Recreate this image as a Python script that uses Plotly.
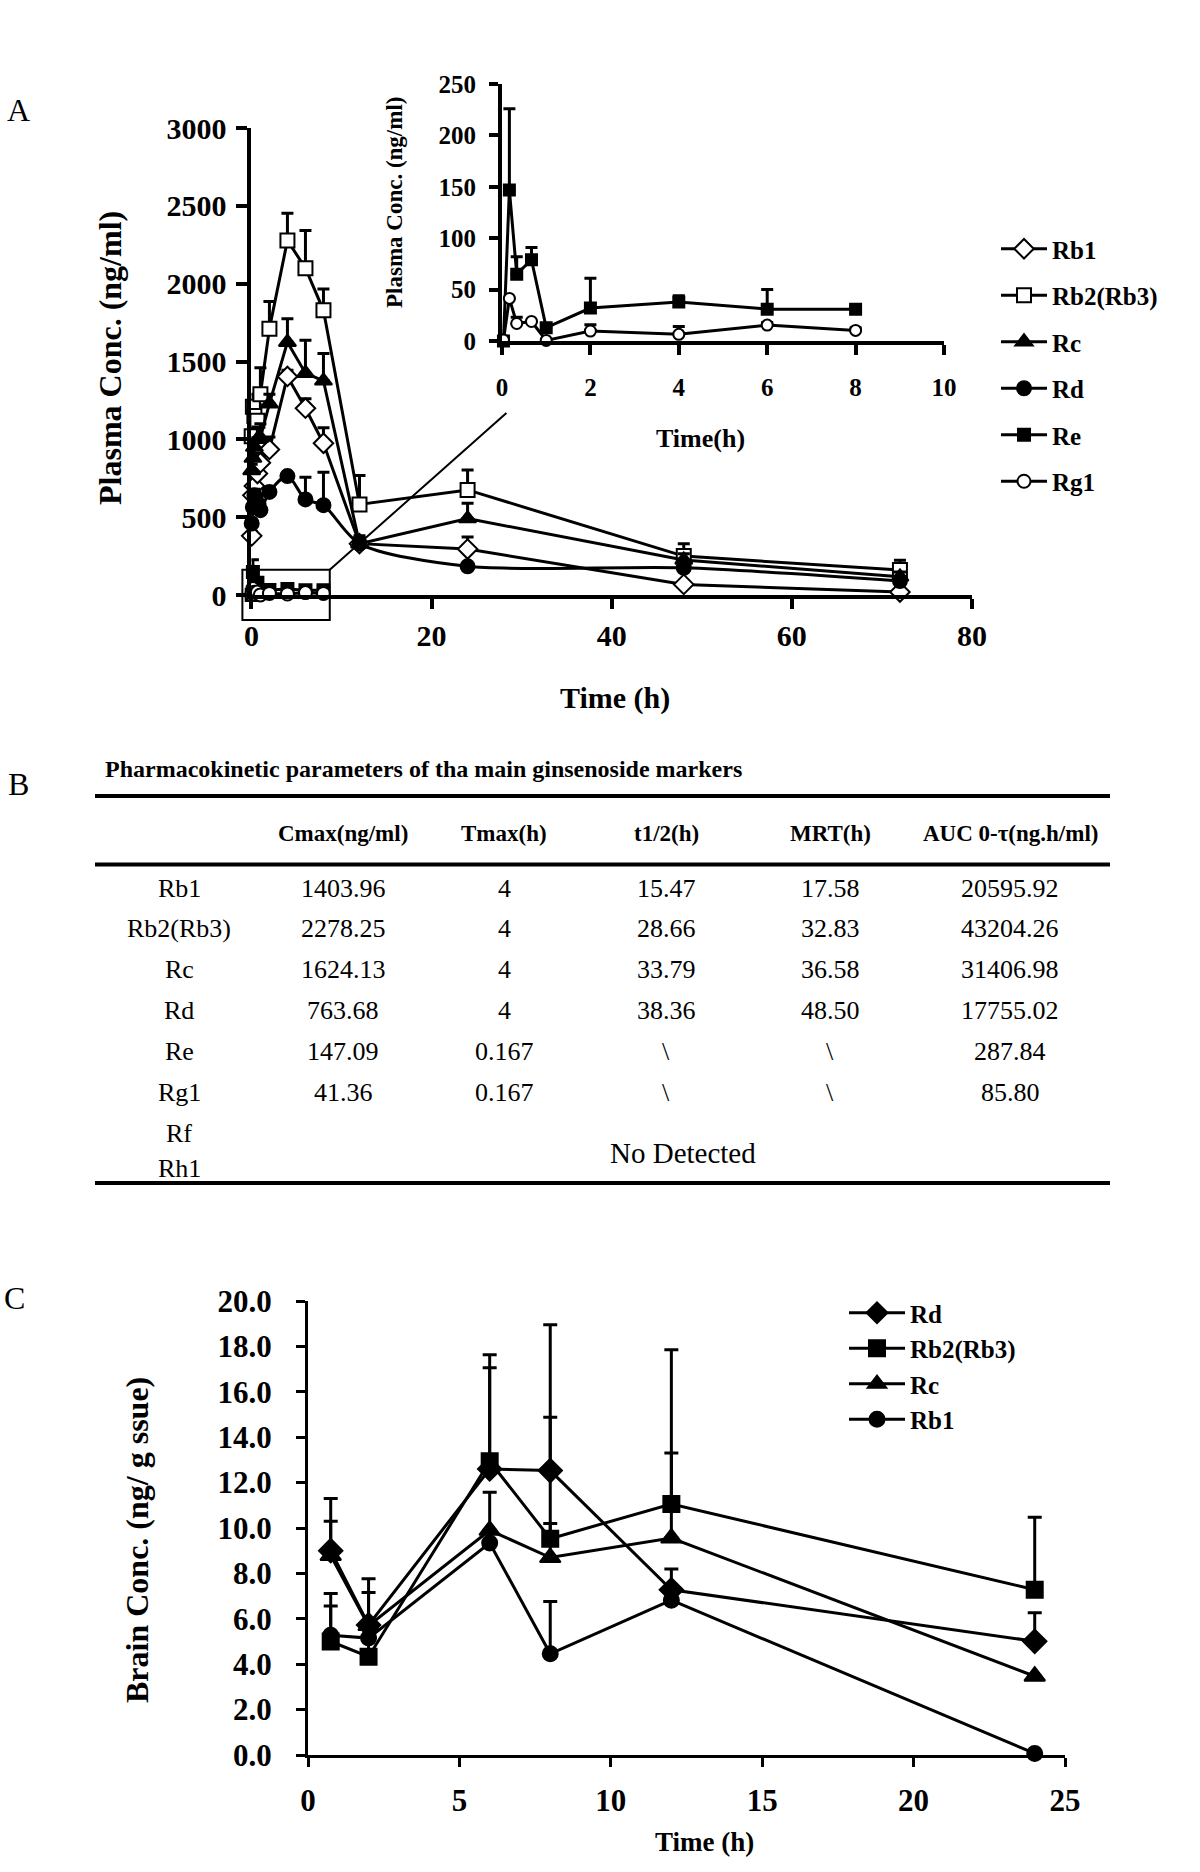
import plotly.graph_objects as go

FONT = "Liberation Serif"
W, H = 1200, 1872

# ---------------- Panel A data (plasma) ----------------
time_A = [0.033, 0.167, 0.333, 0.667, 1, 2, 4, 6, 8, 12, 24, 48, 72]
rb1_A = [380, 640, 700, 780, 850, 935, 1404, 1200, 975, 330, 295, 68, 19]
rb1_A_err = [30, 40, 50, 50, 60, 80, 40, 60, 100, 40, 78, 15, 10]
rb2_A = [1020, 1210, 1150, 1120, 1290, 1711, 2278, 2099, 1829, 582, 675, 250, 160]
rb2_A_err = [60, 80, 70, 100, 170, 174, 175, 243, 137, 185, 128, 79, 64]
rc_A = [800, 880, 950, 1000, 1010, 1229, 1624, 1425, 1376, 330, 491, 225, 117]
rc_A_err = [40, 60, 60, 80, 90, 60, 150, 212, 176, 50, 99, 40, 30]
rd_A = [460, 565, 640, 590, 545, 662, 764, 614, 577, 330, 184, 175, 90]
rd_A_err = [20, 30, 40, 40, 40, 30, 15, 142, 211, 20, 15, 15, 10]

time_early = [0.033, 0.167, 0.333, 0.667, 1, 2, 4, 6, 8]
re_A = [0, 147, 65, 79, 13, 32, 38, 31, 31]
re_A_err = [0, 79, 17, 12, 0, 29, 6, 19, 2]
rg1_A = [1, 41.4, 17, 19, 0.6, 9.7, 6.5, 15.5, 10.3]
rg1_A_err = [0, 0, 6, 0, 0, 6, 7.5, 2.5, 2.7]

# ---------------- Panel B data (table) ----------------
pk_title = "Pharmacokinetic parameters of tha main ginsenoside markers"
pk_headers = ["Cmax(ng/ml)", "Tmax(h)", "t1/2(h)", "MRT(h)", "AUC 0-τ(ng.h/ml)"]
pk_names = ["Rb1", "Rb2(Rb3)", "Rc", "Rd", "Re", "Rg1"]
pk_cmax = ["1403.96", "2278.25", "1624.13", "763.68", "147.09", "41.36"]
pk_tmax = ["4", "4", "4", "4", "0.167", "0.167"]
pk_thalf = ["15.47", "28.66", "33.79", "38.36", "\\", "\\"]
pk_mrt = ["17.58", "32.83", "36.58", "48.50", "\\", "\\"]
pk_auc = ["20595.92", "43204.26", "31406.98", "17755.02", "287.84", "85.80"]
pk_nd_names = ["Rf", "Rh1"]
pk_nd_text = "No Detected"

# ---------------- Panel C data (brain) ----------------
time_C = [0.75, 2, 6, 8, 12, 24]
rd_C = [9.0, 5.73, 12.6, 12.53, 7.28, 5.01]
rd_C_err = [2.3, 2.03, 4.46, 6.42, 0.91, 1.26]
rb2_C = [5.0, 4.33, 12.94, 9.53, 11.06, 7.28]
rb2_C_err = [2.12, 0.9, 4.69, 5.35, 6.79, 3.19]
rc_C = [8.79, 5.7, 9.9, 8.7, 9.56, 3.47]
rc_C_err = [1.51, 1.46, 1.67, 1.5, 3.74, 0]
rb1_C = [5.27, 5.15, 9.34, 4.46, 6.82, 0.07]
rb1_C_err = [1.29, 0.6, 0, 2.3, 0, 0]


def px(x):
    return x / W


def py(y):
    return 1 - y / H


# layout geometry (pixels)
A_X0, A_X1 = 251.4, 972.0
A_Y0, A_Y1 = 595.0, 128.0
I_X0, I_X1 = 502.0, 944.0
I_Y0, I_Y1 = 341.0, 84.0
C_X0, C_X1 = 308.0, 1065.0
C_Y0, C_Y1 = 1755.0, 1301.0

fig = go.Figure()


def err(arr, w, th=3):
    return dict(type="data", array=arr, arrayminus=[0] * len(arr), symmetric=False,
                color="black", thickness=th, width=w, visible=True)


def add_series(x, y, e, name, symbol, fill, xa, ya, size, lw, legend=None, show=True,
               shape="linear", ew=6):
    fig.add_trace(go.Scatter(
        x=x, y=y, name=name, mode="lines+markers", xaxis=xa, yaxis=ya,
        line=dict(color="black", width=lw, shape=shape, smoothing=0.8),
        marker=dict(symbol=symbol, size=size, color=fill, line=dict(color="black", width=2)),
        error_y=err(e, ew), cliponaxis=False, showlegend=show,
        legend=legend if legend else "legend", legendgroup=(legend or "a") + name,
    ))


# Panel A main
add_series(time_A, rb1_A, rb1_A_err, "Rb1", "diamond", "white", "x", "y", 15, 3)
add_series(time_A, rb2_A, rb2_A_err, "Rb2(Rb3)", "square", "white", "x", "y", 14, 3)
add_series(time_A, rc_A, rc_A_err, "Rc", "triangle-up", "black", "x", "y", 15, 3)
add_series(time_A, rd_A, rd_A_err, "Rd", "circle", "black", "x", "y", 14, 3, shape="spline")
add_series(time_early, re_A, re_A_err, "Re", "square", "black", "x", "y", 12, 3)
add_series(time_early, rg1_A, rg1_A_err, "Rg1", "circle", "white", "x", "y", 13, 3)

# inset
add_series(time_early, re_A, re_A_err, "Re", "square", "black", "x2", "y2", 11, 3, show=False, ew=6)
add_series(time_early, rg1_A, rg1_A_err, "Rg1", "circle", "white", "x2", "y2", 11, 3, show=False, ew=6)

# Panel C
add_series(time_C, rd_C, rd_C_err, "Rd", "diamond", "black", "x3", "y3", 18, 3, legend="legend2", ew=7)
add_series(time_C, rb2_C, rb2_C_err, "Rb2(Rb3)", "square", "black", "x3", "y3", 16, 3, legend="legend2", ew=7)
add_series(time_C, rc_C, rc_C_err, "Rc", "triangle-up", "black", "x3", "y3", 18, 3, legend="legend2", ew=7)
add_series(time_C, rb1_C, rb1_C_err, "Rb1", "circle", "black", "x3", "y3", 15, 3, legend="legend2", ew=7)


def axis(domain, rng, anchor, tickvals, size, lw, tl, fmt=None, standoff=4):
    d = dict(domain=domain, range=rng, anchor=anchor, showline=True, linecolor="black",
             linewidth=lw, ticks="outside", ticklen=tl, tickwidth=lw, tickcolor="black",
             showgrid=False, zeroline=False, tickvals=tickvals, automargin=False,
             tickfont=dict(family=FONT, size=size, color="black", weight="bold"),
             ticklabelstandoff=standoff, fixedrange=True)
    if fmt:
        d["tickformat"] = fmt
    return d


fig.update_layout(
    width=W, height=H, margin=dict(l=0, r=0, t=0, b=0, pad=0, autoexpand=False),
    paper_bgcolor="white", plot_bgcolor="rgba(0,0,0,0)",
    xaxis=axis([px(A_X0), px(A_X1)], [0, 80], "y", [0, 20, 40, 60, 80], 30, 4, 10, standoff=1),
    yaxis=axis([py(A_Y0), py(A_Y1)], [0, 3000], "x", [0, 500, 1000, 1500, 2000, 2500, 3000], 30, 4, 11, standoff=4),
    xaxis2=axis([px(I_X0), px(I_X1)], [0, 10], "y2", [0, 2, 4, 6, 8, 10], 25, 4, 10, standoff=11),
    yaxis2=axis([py(I_Y0), py(I_Y1)], [0, 250], "x2", [0, 50, 100, 150, 200, 250], 25, 4, 9, standoff=8),
    xaxis3=axis([px(C_X0), px(C_X1)], [0, 25], "y3", [0, 5, 10, 15, 20, 25], 31, 3, 9, standoff=7),
    yaxis3=axis([py(C_Y0), py(C_Y1)], [0, 20], "x3", [0, 2, 4, 6, 8, 10, 12, 14, 16, 18, 20], 31, 3, 9, fmt=".1f", standoff=18),
    legend=dict(x=px(996), y=py(226), xanchor="left", yanchor="top", tracegroupgap=11,
                itemwidth=46,
                font=dict(family=FONT, size=25, color="black", weight="bold"),
                bgcolor="rgba(0,0,0,0)", itemclick=False, itemdoubleclick=False),
    legend2=dict(x=px(844), y=py(1290), xanchor="left", yanchor="top", tracegroupgap=0,
                 itemwidth=56,
                 font=dict(family=FONT, size=25, color="black", weight="bold"),
                 bgcolor="rgba(0,0,0,0)", itemclick=False, itemdoubleclick=False),
)

ann = []


def text(x, y, s, size, bold=True, angle=0, xanchor="center"):
    ann.append(dict(x=px(x), y=py(y), xref="paper", yref="paper", text=s, showarrow=False,
                    textangle=angle, xanchor=xanchor, yanchor="middle",
                    font=dict(family=FONT, size=size, color="black",
                              weight="bold" if bold else "normal")))


# panel letters
text(18, 110, "A", 32, bold=False)
text(18, 784, "B", 32, bold=False)
text(14, 1298, "C", 32, bold=False)

# axis titles
text(110, 358, "Plasma Conc. (ng/ml)", 32, angle=-90)
text(615, 698, "Time (h)", 30)
text(394, 203, "Plasma Conc. (ng/ml)", 23, angle=-90)
text(700, 438, "Time(h)", 26)
text(137, 1540, "Brain Conc. (ng/ g ssue)", 32, angle=-90)
text(704, 1842, "Time (h)", 27)

# table
col_x = [179, 343, 504, 666, 830, 1010]
text(103, 769, pk_title, 24, xanchor="left")
for cx, h in zip(col_x[1:], pk_headers):
    text(cx, 833, h, 23)
row_y0, row_dy = 888, 40.9
for i, name in enumerate(pk_names):
    yy = row_y0 + i * row_dy
    for cx, v in zip(col_x, [name, pk_cmax[i], pk_tmax[i], pk_thalf[i], pk_mrt[i], pk_auc[i]]):
        text(cx, yy, v, 26, bold=False)
text(col_x[0], 1133, pk_nd_names[0], 26, bold=False)
text(col_x[0], 1168, pk_nd_names[1], 26, bold=False)
text(683, 1153, pk_nd_text, 29, bold=False)

fig.update_layout(annotations=ann)

shapes = []
for yy in [796, 864.5, 1183]:
    shapes.append(dict(type="line", xref="paper", yref="paper", x0=px(95), x1=px(1110),
                       y0=py(yy), y1=py(yy), line=dict(color="black", width=4)))

# zoom box on main panel (in main-axis units) and connector to the inset
box_t0, box_t1, box_v0, box_v1 = -1.0, 8.7, -160, 162
shapes.append(dict(type="rect", xref="x domain", yref="y domain",
                   x0=box_t0 / 80, x1=box_t1 / 80, y0=box_v0 / 3000, y1=box_v1 / 3000,
                   line=dict(color="black", width=2)))
cx0 = px(A_X0 + (A_X1 - A_X0) * box_t1 / 80)
cy0 = py(A_Y0 - (A_Y0 - A_Y1) * box_v1 / 3000)
end_t, end_v = 0.1, -70
cx1 = px(I_X0 + (I_X1 - I_X0) * end_t / 10)
cy1 = py(I_Y0 - (I_Y0 - I_Y1) * end_v / 250)
shapes.append(dict(type="line", xref="paper", yref="paper", x0=cx0, y0=cy0, x1=cx1, y1=cy1,
                   line=dict(color="black", width=2)))
fig.update_layout(shapes=shapes)

fig.write_html("out.html", config={"displayModeBar": False, "staticPlot": True},
               post_script="document.body.style.margin='0';document.body.style.overflow='hidden';")
